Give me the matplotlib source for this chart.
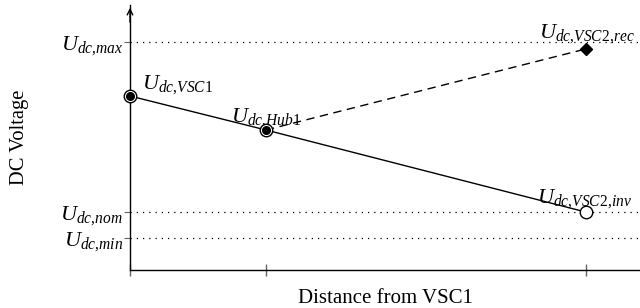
import matplotlib
matplotlib.use("Agg")
import matplotlib.pyplot as plt

plt.rcParams['font.family'] = ['Liberation Serif', 'DejaVu Serif']
plt.rcParams['mathtext.fontset'] = 'custom'
plt.rcParams['mathtext.it'] = 'Liberation Serif:italic'
plt.rcParams['mathtext.rm'] = 'Liberation Serif'

# data (arbitrary units)
x_pos = [0.0, 1.0, 3.35]          # VSC1, Hub1, VSC2
x_max = 3.75
y_top = 265
u_levels = {'max': 228, 'nom': 58, 'min': 32}
level_labels = [r'$U_{dc{,}max}$', r'$U_{dc{,}nom}$', r'$U_{dc{,}min}$']
u_vsc1 = 174
u_hub1 = 140
u_vsc2_inv = 58
u_vsc2_rec = 221
point_labels = [r'$U_{dc{,}VSC1}$', r'$U_{dc{,}Hub1}$', r'$U_{dc{,}VSC2{,}inv}$', r'$U_{dc{,}VSC2{,}rec}$']

fig = plt.figure(figsize=(6.4, 3.08), dpi=100)
ax = fig.add_axes([130/640, 38/308, 510/640, 265/308])
ax.set_xlim(0, x_max)
ax.set_ylim(0, y_top)

for s in ['top', 'right']:
    ax.spines[s].set_visible(False)
ax.spines['left'].set_linewidth(1.0)
ax.spines['bottom'].set_linewidth(1.0)

# dotted reference lines
for v in u_levels.values():
    ax.axhline(v, color='black', lw=0.9, ls=(0, (1, 4)), zorder=1)

# solid line VSC1 -> Hub1 -> VSC2 inv
ax.plot(x_pos, [u_vsc1, u_hub1, u_vsc2_inv], color='black', lw=1.0, zorder=2)
# dashed Hub1 -> VSC2 rec
ax.plot([x_pos[1], x_pos[2]], [u_hub1, u_vsc2_rec], color='black', lw=1.0,
        ls=(0, (6, 4)), zorder=2)

# markers
for xp, yp in [(x_pos[0], u_vsc1), (x_pos[1], u_hub1)]:
    ax.plot(xp, yp, 'o', ms=9, mfc='white', mec='black', mew=1.0, zorder=4, clip_on=False)
    ax.plot(xp, yp, 'o', ms=5.5, mfc='black', mec='black', zorder=5, clip_on=False)
ax.plot(x_pos[2], u_vsc2_inv, 'o', ms=9, mfc='white', mec='black', mew=1.0, zorder=4)
ax.plot(x_pos[2], u_vsc2_rec, 'D', ms=6, mfc='black', mec='black', zorder=4)

# point labels
fs = 16
ax.text(x_pos[0] + 0.09, u_vsc1 + 11, point_labels[0], fontsize=fs, ha='left', va='center')
ax.text(x_pos[1] + 0.26, u_hub1 + 12, point_labels[1], fontsize=fs, ha='right', va='center')
ax.text(x_pos[2] + 0.34, u_vsc2_inv + 13, point_labels[2], fontsize=fs, ha='right', va='center')
ax.text(x_pos[2] + 0.36, u_vsc2_rec + 15, point_labels[3], fontsize=fs, ha='right', va='center')

# ticks
ax.set_xticks(x_pos)
ax.set_xticklabels([])
ax.tick_params(axis='x', direction='inout', length=9, width=1.0, color='#666666')
ax.set_yticks(list(u_levels.values()))
ax.set_yticklabels(level_labels, fontsize=fs)
ax.tick_params(axis='y', direction='out', length=4, width=0.8, color='#666666', pad=1)

ax.set_xlabel('Distance from VSC1', fontsize=15, labelpad=6)
fig.text(20/640, 1 - 137/308, 'DC Voltage', rotation=90, fontsize=14.8,
         ha='center', va='center')

# arrow on y-axis
ax.annotate('', xy=(0, y_top), xytext=(0, y_top - 20),
            arrowprops=dict(arrowstyle='->', color='black', lw=1.0, mutation_scale=10),
            annotation_clip=False)

fig.savefig('out.png', dpi=100)
